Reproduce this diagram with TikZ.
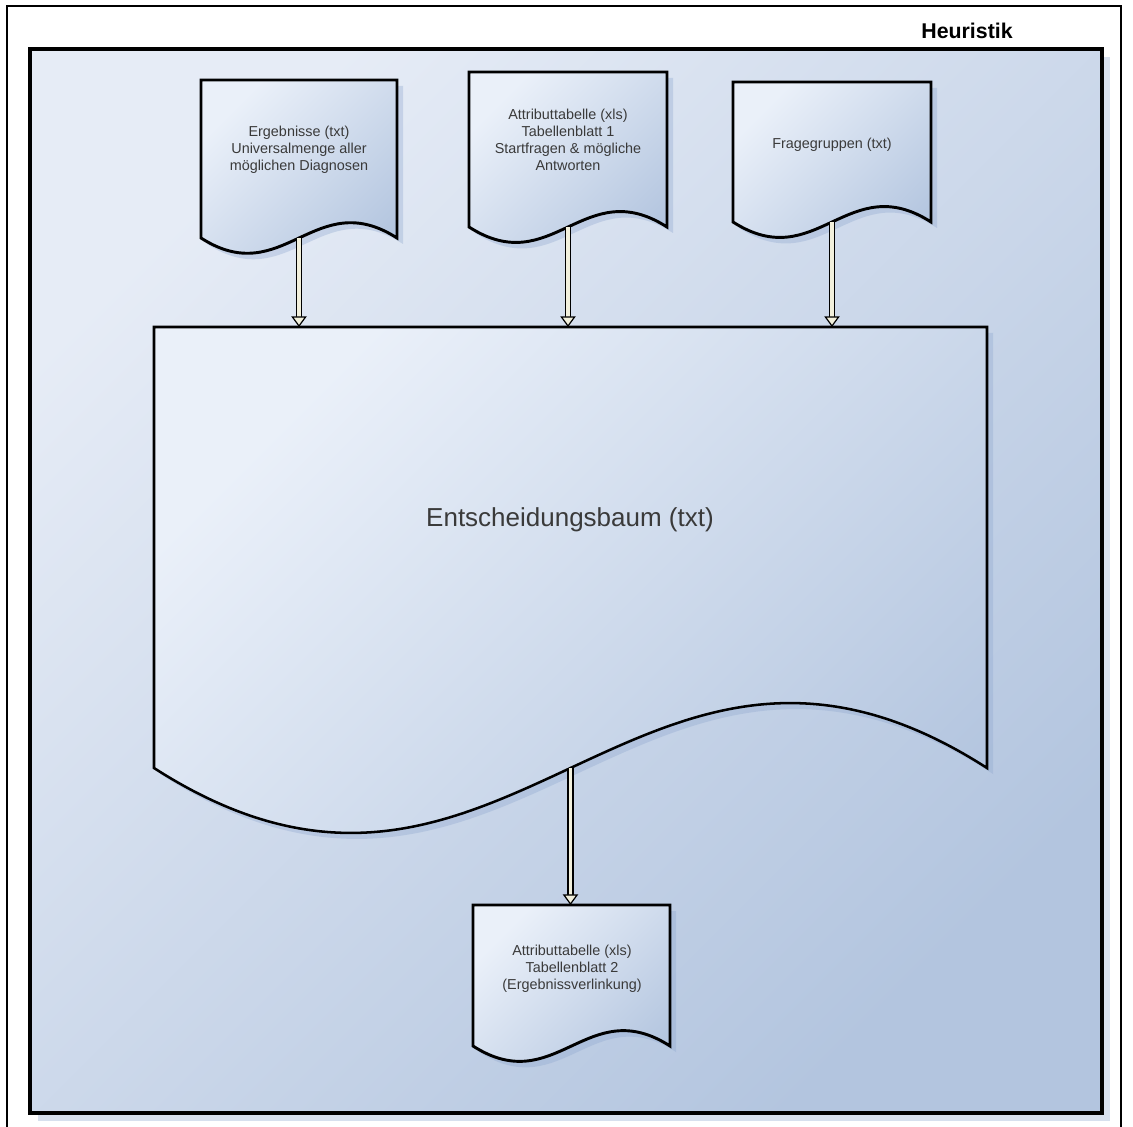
\documentclass[tikz,border=0pt]{standalone}
\usepackage{fontspec}
\setmainfont{Liberation Sans}
\usetikzlibrary{arrows.meta}
\definecolor{bgTL}{HTML}{E6ECF6}
\definecolor{bgBR}{HTML}{B3C5DF}
\definecolor{docTL}{HTML}{EAF0F9}
\definecolor{docBR}{HTML}{B3C5DF}
\definecolor{shadowc}{HTML}{8FA7CF}
\definecolor{arrowc}{HTML}{F2F0DC}
\definecolor{txtc}{HTML}{3A3A3A}
\tikzset{
  docstyle/.style={draw=black, line join=miter, top color=docTL, bottom color=docBR, shading angle=45},
  shadowstyle/.style={fill=shadowc, opacity=0.35},
  smalltxt/.style={font=\fontsize{10.8}{12.6}\selectfont, text=txtc, align=center, inner sep=0pt},
  bigtxt/.style={font=\fontsize{19.5}{23}\selectfont, text=txtc, inner sep=0pt},
  titletxt/.style={font=\fontsize{16}{19}\selectfont\bfseries, text=black, inner sep=0pt},
  framestyle/.style={draw=black, line width=1.1pt},
  panelstyle/.style={draw=black, line width=2.6pt, top color=bgTL, bottom color=bgBR, shading angle=45},
}
% document shape: L, T, R, B (corner height), name, line width
\newcommand{\docshape}[6]{%
  \pgfmathsetmacro{\dw}{#3-#1}%
  \pgfmathsetmacro{\dc}{0.27*\dw}%
  \pgfmathsetmacro{\dxa}{#1+0.42*\dw}%
  \pgfmathsetmacro{\dxb}{#1+0.58*\dw}%
  \pgfmathsetmacro{\dya}{#4+\dc}%
  \pgfmathsetmacro{\dyb}{#4-\dc}%
  \pgfmathsetmacro{\dxm}{(#1+#3)/2}%
  \begin{scope}[shift={(6,6)}]
    \fill[shadowstyle] (#1,#2) -- (#3,#2) -- (#3,#4) .. controls (\dxb,\dyb) and (\dxa,\dya) .. (#1,#4) -- cycle;
  \end{scope}
  \path[docstyle, line width=#6] (#1,#2) -- (#3,#2) -- (#3,#4) .. controls (\dxb,\dyb) and (\dxa,\dya) .. (#1,#4) -- cycle;
  \coordinate (#5-top) at (\dxm,#2);
  \coordinate (#5-bot) at (\dxm,#4);
}
\newcommand{\hollowarrow}[2]{%
  \draw[black, line width=4.6pt, shorten >=6pt] (#1) -- (#2);
  \draw[arrowc, line width=2.3pt, -{Triangle[color=black, fill=arrowc, line width=0.9pt, length=8pt, width=11.5pt]}] (#1) -- (#2);
}
\begin{document}
\begin{tikzpicture}[x=0.75pt, y=-0.75pt]
  \useasboundingbox (0,0) rectangle (1133,1127);
  \fill[white] (0,0) rectangle (1133,1127);
  % outer frame
  \draw[framestyle] (7,1127) -- (7,6) -- (1121,6) -- (1121,1127);
  \node[titletxt] (title) at (967,31) {Heuristik};
  % panel with shadow
  \fill[shadowstyle] (38,57) rectangle (1110,1121);
  \path[panelstyle] (30,49) rectangle (1102,1113);
  % documents
  \docshape{201}{80}{397}{238}{d1}{2.2pt}
  \docshape{469}{72}{667}{227}{d2}{2.2pt}
  \docshape{733}{82}{931}{222}{d3}{2.2pt}
  \docshape{154}{327}{987}{768}{main}{1.9pt}
  \docshape{473}{905}{670}{1046}{d4}{2.2pt}
  % texts
  \node[smalltxt] (t1) at (299,150) {Ergebnisse (txt)\\Universalmenge aller\\möglichen Diagnosen};
  \node[smalltxt] (t2) at (568,140) {Attributtabelle (xls)\\Tabellenblatt 1\\Startfragen \& mögliche\\Antworten};
  \node[smalltxt] (t3) at (832,145) {Fragegruppen (txt)};
  \node[bigtxt] (tm) at (570,520) {Entscheidungsbaum (txt)};
  \node[smalltxt] (t4) at (572,969) {Attributtabelle (xls)\\Tabellenblatt 2\\(Ergebnissverlinkung)};
  % connectors
  \hollowarrow{d1-bot}{d1-bot |- main-top}
  \hollowarrow{d2-bot}{d2-bot |- main-top}
  \hollowarrow{d3-bot}{d3-bot |- main-top}
  \hollowarrow{main-bot}{main-bot |- d4-top}
\end{tikzpicture}
\end{document}
